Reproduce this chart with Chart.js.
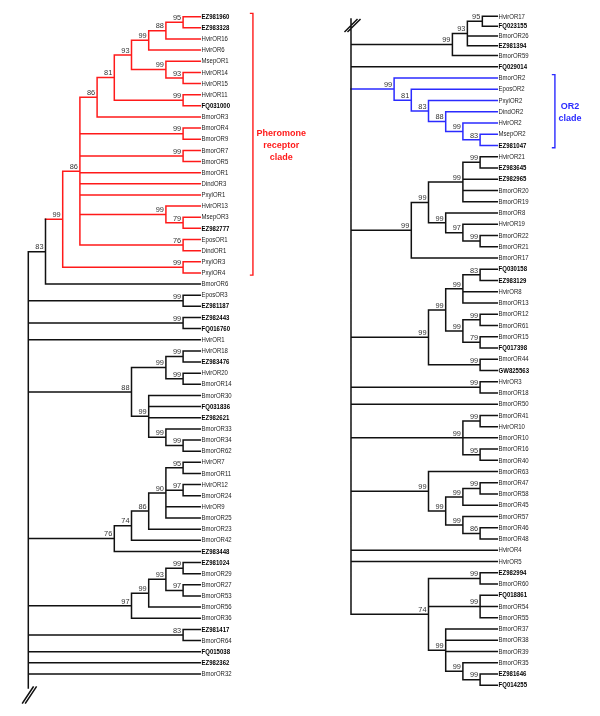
<!DOCTYPE html>
<html>
<head>
<meta charset="utf-8">
<script src="https://cdn.jsdelivr.net/npm/chart.js@4.4.0/dist/chart.umd.min.js"></script>
<style>
  html, body { margin: 0; padding: 0; background: #fff; }
  canvas { display: block; }
</style>
</head>
<body>
<canvas id="tree" width="600" height="716"></canvas>
<script>
// Clades hanging off the root, top to bottom (Newick, bootstrap after each ")")
const leftClades = [
  "(((((((((EZ981960,EZ983328)95,HvirOR16)88,HvirOR6)99,(MsepOR1,(HvirOR14,HvirOR15)93)99)93,(HvirOR11,FQ031000)99)81,BmorOR3)86,(BmorOR4,BmorOR9)99,(BmorOR7,BmorOR5)99,BmorOR1,DindOR3,PxylOR1,(HvirOR13,(MsepOR3,EZ982777)79)99,(EposOR1,DindOR1)76)86,(PxylOR3,PxylOR4)99)99,BmorOR6)83",
  "(EposOR3,EZ981187)99",
  "(EZ982443,FQ016760)99",
  "HvirOR1",
  "(((HvirOR18,EZ983476)99,(HvirOR20,BmorOR14)99)99,(BmorOR30,FQ031836,EZ982621,(BmorOR33,(BmorOR34,BmorOR62)99)99)99)88",
  "(((((HvirOR7,BmorOR11)95,(HvirOR12,BmorOR24)97,HvirOR9,BmorOR25)90,BmorOR23)86,BmorOR42)74,EZ983448)76",
  "((((EZ981024,BmorOR29)99,(BmorOR27,BmorOR53)97)93,BmorOR56)99,BmorOR36)97",
  "(EZ981417,BmorOR64)83",
  "FQ015038",
  "EZ982362",
  "BmorOR32"
];

const rightClades = [
  "(((HvirOR17,FQ023155)95,BmorOR26,EZ981394)93,BmorOR59)99",
  "FQ029014",
  "(BmorOR2,(EposOR2,(PxylOR2,(DindOR2,(HvirOR2,(MsepOR2,EZ981047)83)99)88)83)81)99",
  "((((HvirOR21,EZ983645)99,EZ982965,BmorOR20,BmorOR19)99,(BmorOR8,(HvirOR19,(BmorOR22,BmorOR21)99)97)99)99,BmorOR17)99",
  "((((FQ030158,EZ983129)83,HvirOR8,BmorOR13)99,((BmorOR12,BmorOR61)99,(BmorOR15,FQ017398)79)99)99,(BmorOR44,GW825563)99)99",
  "(HvirOR3,BmorOR18)99",
  "BmorOR50",
  "((BmorOR41,HvirOR10)99,BmorOR10,(BmorOR16,BmorOR40)95)99",
  "(BmorOR63,(((BmorOR47,BmorOR58)99,BmorOR45)99,(BmorOR57,(BmorOR46,BmorOR48)86)99)99)99",
  "HvirOR4",
  "HvirOR5",
  "((EZ982994,BmorOR60)99,(FQ018861,BmorOR54,BmorOR55)99,(BmorOR37,BmorOR38,BmorOR39,(BmorOR35,(EZ981646,FQ014255)99)99)99)74"
];

// accession numbers are printed in bold
const boldPrefixes = ["EZ", "FQ", "GW"];

// highlighted clades: first leaf, last leaf, caption lines
const highlightSide = ["left", "right"];
const highlightFirst = ["EZ981960", "BmorOR2"];
const highlightLast = ["PxylOR4", "EZ981047"];
const highlightText = [["Pheromone", "receptor", "clade"], ["OR2", "clade"]];
const highlightColor = ["#ff1a1a", "#2b2bff"];

// ---- layout (pixel calibration of the figure) ----
const W = 600, H = 716;
const LEAF = 10;             // leaf tips sit at level 10, nodes at 10 - height
const FONT = "'Liberation Sans', Arial, sans-serif";
const sides = {
  left: {
    id: "L", clades: leftClades,
    x0: 28.3, dx: 17.2,          // px of level 0, px per level
    y0: 16.7, row0: 1, dy: 11.14, // px of row0, px per row
    rootLevel: 0, rootBottomPx: 688,
    brk: { cx: 29.4, cy: 695, hx: 5.3, hy: 8 },
    bracketLevel: 13.06, squash: null
  },
  right: {
    id: "R", clades: rightClades,
    x0: 325.3, dx: 17.2,
    y0: 78, row0: 7, dy: 11.246,
    rootLevel: 1.494, rootTopPx: 19,
    brk: { cx: 352.5, cy: 25.5, hx: 6, hy: 6 },
    bracketLevel: 13.35, squash: { index: 0, factor: 0.87 }
  }
};

const ux = (s, px) => (px - s.x0) / s.dx;
const uy = (s, px) => s.row0 + (px - s.y0) / s.dy;

function parseNewick(str) {
  let i = 0;
  function node() {
    const n = { children: [] };
    if (str[i] === "(") {
      i++;
      n.children.push(node());
      while (str[i] === ",") { i++; n.children.push(node()); }
      i++;
    }
    const j = i;
    while (i < str.length && !",()".includes(str[i])) i++;
    const tok = str.slice(j, i);
    if (n.children.length) n.support = tok; else n.name = tok;
    return n;
  }
  return node();
}

function layoutSide(side) {
  const root = { children: side.clades.map(parseNewick) };
  let row = 0;
  const leaves = [], inner = [];
  (function number(n) {
    if (!n.children.length) {
      n.row = ++row; n.h = 0; n.first = n.last = n.row; leaves.push(n); return;
    }
    n.children.forEach(number);
    n.h = 1 + Math.max(...n.children.map(c => c.h));
    n.first = n.children[0].first;
    n.last = n.children[n.children.length - 1].last;
    if (n !== root) inner.push(n);
  })(root);
  function pos(n, f, anchor) {
    if (n.children.length) {
      n.children.forEach(c => pos(c, f, anchor));
      n.y = (n.children[0].y + n.children[n.children.length - 1].y) / 2;
    } else {
      n.y = anchor - (anchor - n.row) * f;
    }
    n.x = LEAF - n.h * f;
  }
  root.children.forEach((c, i) => {
    const f = side.squash && side.squash.index === i ? side.squash.factor : 1;
    pos(c, f, c.last);
  });
  root.x = side.rootLevel;
  return { root, leaves, inner };
}

function findClade(root, a, b) {
  let best = root;
  (function walk(n) {
    if (n.children.length && n.first <= a && n.last >= b) {
      best = n;
      n.children.forEach(walk);
    }
  })(root);
  return best;
}

const datasets = [];
const trees = {};

for (const key of ["left", "right"]) {
  const side = sides[key];
  const t = layoutSide(side);
  trees[key] = t;
  const byName = {};
  t.leaves.forEach(l => { byName[l.name] = l; });

  // colour the highlighted clades
  highlightSide.forEach((s, k) => {
    if (s !== key) return;
    const a = byName[highlightFirst[k]], b = byName[highlightLast[k]];
    findClade(t.root, a.row, b.row).color = highlightColor[k];
  });

  const groups = {};
  const add = (color, p, q) => {
    (groups[color] = groups[color] || []).push({ x: p[0], y: p[1] }, { x: q[0], y: q[1] }, { x: null, y: null });
  };
  (function walk(n, parent, color) {
    if (n.color) color = n.color;
    if (parent) add(color, [parent.x, n.y], [n.x, n.y]);
    if (n.children.length) {
      let top = n.children[0].y, bottom = n.children[n.children.length - 1].y;
      if (!parent) {
        if (side.rootTopPx != null) top = uy(side, side.rootTopPx);
        if (side.rootBottomPx != null) bottom = uy(side, side.rootBottomPx);
      }
      add(color, [n.x, top], [n.x, bottom]);
      n.children.forEach(c => walk(c, n, color));
    }
  })(t.root, null, "#111");

  // break mark "//"
  const b = side.brk;
  for (const off of [-1.5, 1.5]) {
    add("#111", [ux(side, b.cx + off - b.hx), uy(side, b.cy + b.hy)],
                [ux(side, b.cx + off + b.hx), uy(side, b.cy - b.hy)]);
  }

  for (const color in groups) {
    datasets.push({
      data: groups[color], xAxisID: "x" + side.id, yAxisID: "y" + side.id,
      borderColor: color, borderWidth: 1.5, borderCapStyle: "square",
      showLine: true, pointRadius: 0, spanGaps: false
    });
  }

  // brackets
  highlightSide.forEach((s, k) => {
    if (s !== key) return;
    const a = byName[highlightFirst[k]], c = byName[highlightLast[k]];
    const bx = side.bracketLevel, top = a.y - 0.3, bot = c.y + 0.2;
    datasets.push({
      data: [{ x: bx - 0.18, y: top }, { x: bx, y: top }, { x: bx, y: bot }, { x: bx - 0.18, y: bot }],
      xAxisID: "x" + side.id, yAxisID: "y" + side.id,
      borderColor: highlightColor[k], borderWidth: 1.4, showLine: true, pointRadius: 0
    });
  });
}

function axisFor(side, axis) {
  if (axis === "x") {
    const min = -side.x0 / side.dx;
    return { type: "linear", axis: "x", display: false, min, max: min + W / side.dx };
  }
  const min = side.row0 - side.y0 / side.dy;
  return { type: "linear", axis: "y", display: false, reverse: true, min, max: min + H / side.dy };
}

const treeText = {
  id: "treeText",
  afterDatasetsDraw(chart) {
    const ctx = chart.ctx;
    for (const key of ["left", "right"]) {
      const side = sides[key], t = trees[key];
      const xs = chart.scales["x" + side.id], ys = chart.scales["y" + side.id];
      ctx.save();
      // leaf names
      ctx.textBaseline = "middle";
      ctx.textAlign = "left";
      for (const l of t.leaves) {
        const bold = boldPrefixes.some(p => l.name.startsWith(p));
        ctx.font = (bold ? "bold " : "") + "7.8px " + FONT;
        ctx.fillStyle = bold ? "#000" : "#1e1e1e";
        ctx.save();
        ctx.translate(xs.getPixelForValue(LEAF) + 1.3, ys.getPixelForValue(l.y));
        ctx.scale(0.77, 1);
        ctx.fillText(l.name, 0, 0);
        ctx.restore();
      }
      // bootstrap values
      ctx.font = "7.4px " + FONT;
      ctx.fillStyle = "#333";
      ctx.textAlign = "right";
      ctx.textBaseline = "alphabetic";
      for (const n of t.inner) {
        if (!n.support) continue;
        ctx.fillText(n.support, xs.getPixelForValue(n.x) - 2, ys.getPixelForValue(n.y) - 2.2);
      }
      // clade captions
      highlightSide.forEach((s, k) => {
        if (s !== key) return;
        const a = t.leaves.find(l => l.name === highlightFirst[k]);
        const c = t.leaves.find(l => l.name === highlightLast[k]);
        const lines = highlightText[k];
        ctx.font = "bold 9px " + FONT;
        ctx.fillStyle = highlightColor[k];
        ctx.textAlign = "center";
        ctx.textBaseline = "middle";
        const maxW = Math.max(...lines.map(s2 => ctx.measureText(s2).width));
        const cx = xs.getPixelForValue(side.bracketLevel) + 3.5 + maxW / 2;
        const mid = (ys.getPixelForValue(a.y - 0.3) + ys.getPixelForValue(c.y + 0.2)) / 2 + 1.5;
        lines.forEach((s2, i) => {
          ctx.fillText(s2, cx, mid + (i - (lines.length - 1) / 2) * 12);
        });
      });
      ctx.restore();
    }
  }
};

new Chart(document.getElementById("tree").getContext("2d"), {
  type: "scatter",
  data: { datasets },
  options: {
    responsive: false,
    animation: false,
    layout: { padding: 0 },
    plugins: { legend: { display: false }, tooltip: { enabled: false } },
    scales: {
      xL: axisFor(sides.left, "x"), yL: axisFor(sides.left, "y"),
      xR: axisFor(sides.right, "x"), yR: axisFor(sides.right, "y")
    }
  },
  plugins: [treeText]
});
</script>
</body>
</html>
